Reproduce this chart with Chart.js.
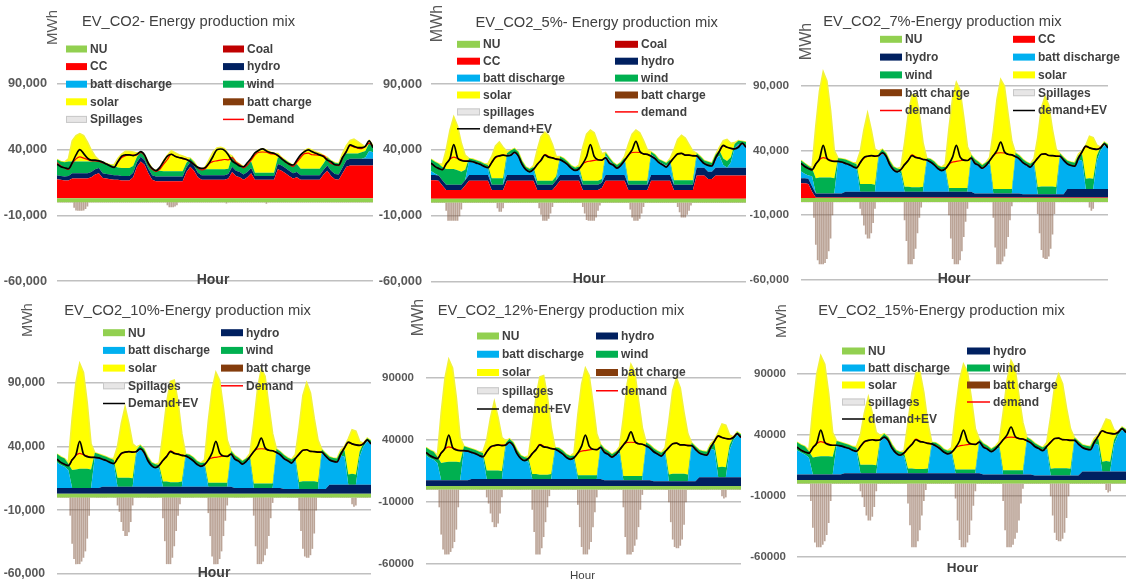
<!DOCTYPE html>
<html><head><meta charset="utf-8">
<script src="https://cdn.jsdelivr.net/npm/chart.js@4.4.1/dist/chart.umd.min.js"></script>
<style>
html,body{margin:0;padding:0;background:#fff;}
#wrap{position:relative;width:1126px;height:582px;overflow:hidden;background:#fff;}
#wrap canvas{position:absolute;}
</style></head><body><div id="wrap"></div>
<script>
// ---- categories: hour of the week (areas/lines read every 2 h, charge bars hourly)
const HOURS_2H = Array.from({length: 84}, (_, i) => 2 * i);
const HOURS_1H = Array.from({length: 168}, (_, i) => i);
// ---- y-axis ticks
const TICKS = [-60000, -10000, 40000, 90000];
const TICK_LABELS_COMMA = ['-60,000', '-10,000', '40,000', '90,000'];
const TICK_LABELS_PLAIN = ['-60000', '-10000', '40000', '90000'];

// ---- series values, thousand MWh
const DEMAND = [30,27.5,26,25,29.5,33,34.5,33.5,32.5,31.5,31.5,31,
 30,29,27.5,26.5,30.5,34,35.5,36,35.8,36,38,35.5,
 29,25,23.5,25,29,32.5,36.5,35,34,33.2,32.6,31,
 29,26,24.5,25.7,29.5,31,31.5,32,32.5,32.2,34,30.5,
 28.5,26.2,28.3,32,36,38,38.2,38,37,36.6,35.5,33.5,
 30.5,28.8,27.2,30.5,34,37,37.4,36.1,36,35.8,35.5,32.5,
 29.6,28.5,27.8,33.5,39,43,42,41.2,40.8,42.5,45,42];
const DEMAND_EV_A = [29,27,26.2,25.5,30,36,40,37,33.5,32,32,31.5,
 30.5,29,27.5,26.5,31,35,36,36,35.5,36.5,38.5,36,
 29.5,25.7,24,26.5,31,35,36.5,35,34,33.4,32.5,31,
 28.5,26.5,25.7,26.5,30,35,40,40.5,39.5,36,31.5,29.5,
 27.5,27,30,33.5,37.5,39.5,40.6,39,37.8,37.2,35.5,33,
 30.8,29,28.3,32,36,38.5,39.8,38.5,37.2,36,34.7,32,
 30.8,28.5,28.3,34,38.5,43.6,42.5,41.6,41.6,42.5,46.7,41.5];
const DEMAND_EV_B = [30,27.5,26,25,29.5,33.5,44,34,32,31.5,31.5,31,
 30,29,27.5,26.5,30.5,34.5,35.5,36,35.5,36,38.2,35.5,
 29,25,23.3,25.2,29,32.2,36,34.5,34,33,32.6,31,
 28.8,26,24.4,25.7,29.5,35,44,35,32.5,32.2,34,30,
 28.5,26.2,28.3,32,36,40,46.5,39,37,36.6,35.2,33.5,
 30.5,28.8,27,30.5,34,37,37.4,36.1,36,35.5,35.5,32.5,
 29.6,28.3,27.8,34,39,43.4,42,41.2,40.8,42,45.2,42];
const NU = [3,3,3,3,3,3,3,3,3,3,3,3, 3,3,3,3,3,3,3,3,3,3,3,3, 3,3,3,3,3,3,3,3,3,3,3,3,
 3,3,3,3,3,3,3,3,3,3,3,3, 3,3,3,3,3,3,3,3,3,3,3,3, 3,3,3,3,3,3,3,3,3,3,3,3, 3,3,3,3,3,3,3,3,3,3,3,3];

// EV_CO2
const CC_A = [14.5,14,13.5,13.5,15,15,15,15,15,16,18,19,
 15.5,15,14.5,14,14,13.5,13.5,13.5,16,24,28,25.5,
 19,14,13,13,13,13,13,13,13,13,20,24,
 21,16,14,14,14,14,14,14,14,15,20,17,
 16,14,16,19,14,14,14,14,14,14,22,21,
 19,17,15,16,14,14,14,14,14,14,18,21,
 17,14.5,14,19,24,25,25,25,25,25,25,25];
const HYDRO_A = [3,3,3,3.5,4,4,4,4,4,4,4,4,
 3.5,3.5,3.5,3.5,3.5,3.5,3.5,3.5,3.5,3.5,3.5,3.5,
 3.5,3.5,3.5,3.5,3.5,3.5,3.5,3.5,3.5,3.5,3.5,3.5,
 3.5,3.5,3.5,3.5,3.5,3.5,3.5,3.5,3.5,3.5,4,4,
 4,4,4,4,3,3,3,3,3,3,4,4,
 4,4,4,4,3.5,3.5,3.5,3.5,3.5,3.5,3.5,4,
 4,4,4,4.5,5,5,5,5,5,5,5,5];
const BATT_A = [0,0,0,0,0,0,0,0,0,0,0,0, 0,0,0,0,0,0,0,0,0,0,0,0, 0,0,0,0,0,0,0,0,0,0,0,0,
 0,0,0,0,0,0,0,0,0,0,0,0, 0,0,0,0,0,0,0,0,0,0,0,0, 0,0,0,0,0,0,0,0,0,0,0,0,
 0,0,0,0,0,0,0,0,0,1,6,5];
const WIND_A = [12,11,11,11,9,9,9,9,9,8,7,6,
 8.5,8,7.5,7,6,6,6,6,5,4,3.5,3.5,
 5,5,4.5,4.5,4,4,4,4,4,4,3.5,3,
 3,4,4.5,4.5,4.5,4.5,4.5,4.5,4.5,4,8,7,
 6,6,6,5,2.5,2.5,2.5,2.5,2.5,2.5,5,6,
 6,6,6,6,5,5,5,5,5,5,5,6,
 7.5,8.5,8.5,8.5,5,4,4,4,5,5,6,5];
const SOLAR_A = [0,0,0,2,15.7,19.7,21.2,19.7,14.7,8.7,3,0,
 0,0,0,1,6.7,10.7,12.7,12.7,10.7,3,0,0,
 0,0,0,2,8.2,12.2,15.7,14.2,12.7,11.7,4,0,
 0,0,0,2,7.7,13.2,16.2,16.7,15.7,11.2,0,0,
 0,0,0,2,14.2,17.2,18.2,17.2,15.7,14.7,3,0,
 0,0,0,2,9.2,13.7,15.2,14.2,12.7,11.7,6,0,
 0,0,0,2,6,10,11,9,6,3,2,0];
const CHARGE_A = [0,0,0,0,0,0,0,0,0,-4,-6,-6.2,-6.2,-6.2,-6,-5,-3,0,0,0,0,0,0,0,
 0,0,0,0,0,0,0,0,0,0,0,0,0,0,0,0,0,0,0,0,0,0,0,0,
 0,0,0,0,0,0,0,0,0,0,-2,-3.6,-3.6,-3.6,-3,-2,0,0,0,0,0,0,0,0,
 0,0,0,0,0,0,0,0,0,0,0,0,0,0,0,0,0,-0.8,0,0,0,0,0,0,
 0,0,0,0,0,0,0,0,0,0,0,0,0,0,-1,0,0,0,0,0,0,0,0,0,
 0,0,0,0,0,0,0,0,0,0,0,0,0,0,0,0,0,0,0,0,0,0,0,0,
 0,0,0,0,0,0,0,0,0,0,0,0,0,0,0,0,0,0,0,0,0,0,0,0];

// EV_CO2_5%
const CC_B = [14,14,13.5,10,6.5,6.5,6.5,6.5,6.5,10,13.5,13.5,
 13.5,13.5,13.5,13.5,6.5,6.5,6.5,6.5,13.5,13.5,13.5,13.5,
 13.5,13.5,13.5,13.5,6.5,6.5,6.5,6.5,6.5,10,13.5,13.5,
 13.5,13.5,13.5,13.5,6.5,6.5,6.5,6.5,6.5,8,13.5,13.5,
 13.5,13.5,13.5,13.5,6.5,6.5,6.5,6.5,6.5,6.5,13.5,13.5,
 13.5,13.5,13.5,13.5,6.5,6.5,6.5,6.5,6.5,6.5,17.5,17.5,
 17.5,15,15,17.5,17.5,17.5,17.5,17.5,17.5,17.5,17.5,17.5];
const HYDRO_B = [4,4,4,4,4,4,4,4,4,4,4.5,4.5,
 4.5,4.5,4.5,4.5,4,4,4,4,4.5,4.5,4.5,4.5,
 4.5,4.5,4.5,4.5,4,4,4,4,4,4,4.5,4.5,
 4.5,4.5,4.5,4.5,4,4,4,4,4,4,4.5,4.5,
 4.5,4.5,4.5,4.5,4,4,4,4,4,4,4.5,4.5,
 4.5,4.5,4.5,4.5,4,4,4,4,4,4,6,6,
 6,5.5,5.5,6,6,6,6,6,6,6,6,6];
const BATT_B = [3,1,0,0,0,0,0,0,0,0,10,9.5,
 8.5,7.5,6,5,0,0,0,0,14,16,17.5,15,
 8,4,2.5,4,0,0,0,0,0,0,12,10.5,
 8,5,3.5,4.5,0,0,0,0,0,0,15,11,
 7.5,5.5,7.5,11,0,0,0,0,0,0,15.5,13.5,
 10,8.5,7,9.5,0,0,0,0,0,0,8.5,6,
 3,5,4,7,9,2,0,4,15,18,17.5,17];
const WIND_B = [9,9,9,10,12,12,12,11,10,8,2.5,2.5,
 2.5,2.5,2.5,2.5,5,5,5,5,2.5,2.5,2.5,2.5,
 2.5,2,2,2,3,3,3,3,3,3,2,2,
 2,2,2,2,3,3,3,3,3,3,2,2,
 2,2,2,2,3,3,3,3,3,3,2,2,
 2,2,2,2,3.5,3.5,3.5,3.5,3.5,3.5,2.5,2.5,
 2.5,2.5,2.5,3,4,5,5,4,3,2.5,2.5,2.5];
const SOLAR_B = [0,0,0,2,14.5,29.5,39.5,33.5,21.5,11,0,0,
 0,0,0,1,16.5,24.5,27.5,23.5,1.5,0,0,0,
 0,0,0,1,23.5,33.5,37,34.5,27.5,15,0,0,
 0,0,0,1,25.5,35.5,38.5,36.5,28.5,19,0,0,
 0,0,0,1,27.5,35.5,38.5,36.5,30.5,23.5,0,0,
 0,0,0,1,23,31,34,32,27,22,0,0,
 0,0,0,0,2.5,13.5,16.5,10.5,1,0,0,0];
const CHARGE_B = [0,0,0,0,0,0,0,0,-6,-13.5,-13.5,-13.5,-13.5,-13.5,-13.5,-10,-5,0,0,0,0,0,0,0,
 0,0,0,0,0,0,0,0,0,0,0,-4,-6.6,-6.6,-4,0,0,0,0,0,0,0,0,0,
 0,0,0,0,0,0,0,0,0,-4,-9,-13.5,-13.5,-13.5,-12,-8,-3,0,0,0,0,0,0,0,
 0,0,0,0,0,0,0,0,-3,-8,-13,-13.5,-13.5,-13.5,-13.5,-11,-6,-2,0,0,0,0,0,0,
 0,0,0,0,0,0,0,0,0,-5,-11,-13.5,-13.5,-13.5,-12,-8,-3,0,0,0,0,0,0,0,
 0,0,0,0,0,0,0,0,0,0,-3,-7,-11,-11,-11,-9,-6,-2,0,0,0,0,0,0,
 0,0,0,0,0,0,0,0,0,0,0,0,0,0,0,0,0,0,0,0,0,0,0,0];

// EV_CO2_7%
const CC_C = [11.5,11.5,11,5,0.5,0.5,0.5,0.5,0.5,0.5,0.5,0.5,
 0.5,0.5,0.5,0.5,0.5,0.5,0.5,0.5,0.5,0.5,0.5,0.5, 0.5,0.5,0.5,0.5,0.5,0.5,0.5,0.5,0.5,0.5,0.5,0.5,
 0.5,0.5,0.5,0.5,0.5,0.5,0.5,0.5,0.5,0.5,0.5,0.5, 0.5,0.5,0.5,0.5,0.5,0.5,0.5,0.5,0.5,0.5,0.5,0.5,
 0.5,0.5,0.5,0.5,0.5,0.5,0.5,0.5,0.5,0.5,0.5,0.5, 0.5,0.5,0.5,0.5,0.5,0.5,0.5,0.5,0.5,0.5,0.5,0.5];
const HYDRO_C = [4,4,4,4,3,3,3,3,3,3,3,3,
 4.4,4.4,4.4,4.4,4.4,4.4,4.4,4.4,4.4,4.4,4.4,4.4,
 4.4,4.4,4.4,4.4,4.4,4.4,4.4,4.4,4.4,4.4,4.4,4.4,
 4.4,4.4,4.4,4.4,4.4,4.4,4.4,4.4,4.4,4.4,4.4,3.1,
 3.1,3.1,3.1,3.1,3.1,3.1,3.1,3.1,3.1,3.1,3.1,3.1,
 2.6,2.6,2.6,2.6,2.6,2.6,2.6,2.6,2.6,2.6,2.6,2.6,
 6.5,6.5,6.5,6.5,6.5,6.5,6.5,6.5,6.5,6.5,6.5,6.5];
const BATT_C = [5.2,3.5,2.5,8,0,0,0,0,0,0,24.5,24,
 22,21,19.5,18.5,0,0,0,0,0,26.5,30,27,
 21,17,15.5,14.5,0,0,0,0,0,0,23.5,23,
 21,18,16.5,16.5,0,0,0,0,0,0,26,24,
 22,19.5,21.5,23,0,0,0,0,0,0,29,27,
 24.5,22.5,21,22.5,0,0,0,0,0,0,29,26,
 19.5,18.5,17.5,23,22,0,0,0,22,30,34,32];
const WIND_C = [8.5,8,7.5,6,12,12.5,12.5,12.5,12.5,12,3,3,
 3,3,3,3,6,6,6,6,5.5,3,3,3,
 3,2.5,2.5,3,4,4,3.5,3.5,3.5,4,2.5,2.5,
 2.5,2.5,2.5,3,3,3,3,3,3,3,2.5,2.5,
 2.5,2.5,2.5,3,3.5,3.5,3.5,3.5,3.5,3.5,2.5,2.5,
 2.5,2.5,2.5,3,5.5,6,6,6,6,5.5,2.5,2.5,
 2.5,2.5,3,3,5,8,8.5,8,4,2.5,2.5,2.5];
const SOLAR_C = [0,0,0,1,40.5,67,82,75,52,21.5,0,0,
 0,0,0,1,25,42,55,42,27.5,2,0,0,
 0,0,0,1.5,34,56,71.5,72.5,56.5,34,0,0,
 0,0,0,2,46,70,82,76,55,32,0,0,
 0,0,0,2,45,70,85,80,58,37,0,0,
 0,0,0,2,38.4,60.9,69.9,62.9,43.9,29.4,0,0,
 0,0,0,1,3,26,32.5,32,8,0,0,0];
const CHARGE_C = [0,0,0,0,0,0,0,-12,-33,-45,-48,-48,-48,-47,-44,-38,-28,-10,0,0,0,0,0,0,
 0,0,0,0,0,0,0,0,-5,-10,-18,-25,-28,-28,-24,-16,-5,0,0,0,0,0,0,0,
 0,0,0,0,0,0,0,0,-14,-30,-48,-48,-48,-44,-36,-24,-12,-4,0,0,0,0,0,0,
 0,0,0,0,0,0,0,0,-10,-28,-44,-48,-48,-48,-45,-38,-27,-15,-5,0,0,0,0,0,
 0,0,0,0,0,0,0,0,-12,-35,-48,-48,-48,-46,-42,-36,-27,-14,-3,0,0,0,0,0,
 0,0,0,0,0,0,0,0,-9,-24,-37,-43,-44,-44,-42,-36,-25,-9,0,0,0,0,0,0,
 0,0,0,0,0,0,0,0,0,0,0,0,-4,-6.5,-5,0,0,0,0,0,0,0,0,0];

// EV_CO2_10% / 12% / 15%
const HYDRO_D = [4.5,4.5,4.5,4.5,4.5,4.5,4.5,4.5,4.5,4.5,4.5,4.5,
 5.5,5.5,5.5,5.5,5.5,5.5,5.5,5.5,5.5,5.5,5.5,5.5,
 5.5,5.5,5.5,5.5,5.5,5.5,5.5,5.5,5.5,5.5,5.5,5.5,
 5.5,5.5,5.5,5.5,5.5,5.5,5.5,5.5,5.5,5.5,5.5,4.5,
 4.5,4.5,4.5,4.5,4.5,4.5,4.5,4.5,4.5,4.5,4.5,4.5,
 3.7,3.7,3.7,3.7,3.7,3.7,3.7,3.7,3.7,3.7,3.7,3.7,
 7,7,7,7,7,7,7,7,7,7,7,7];
const BATT_D = [20,18,16.5,14,0,0,0,0,0,0,24.5,23.5,
 21.5,20.5,19,18,0,0,0,0,0,26,29.5,26.5,
 20.5,16.5,15,14,0,0,0,0,0,0,23,22.5,
 20.5,17.5,16,16,0,0,0,0,0,0,25.5,23,
 21,18.5,20.5,22,0,0,0,0,0,0,28,26,
 24,22,20.5,22,0,0,0,0,0,0,28.5,25.5,
 19.5,18.5,17.5,23,22,0,0,0,22,30,34,32];
const WIND_D = [6.5,6.5,6.5,5,14,14.5,15,15,15,14.5,3,3,
 3,3,3,3,7,7,7,7,6.5,3,3,3,
 3,2.5,2.5,3,4,4,3.5,3.5,3.5,4,2.5,2.5,
 2.5,2.5,2.5,3,3,3,3,3,3,3,2.5,2.5,
 2.5,2.5,2.5,3,3.5,3.5,3.5,3.5,3.5,3.5,2.5,2.5,
 2.5,2.5,2.5,3,5.5,6,6,6,6,5.5,2.5,2.5,
 2.5,2.5,3,3,5,8,8.5,8,4,2.5,2.5,2.5];
const SOLAR_D = [0,0,0,1,40.5,68,82.5,75.5,51.5,20,0,0,
 0,0,0,1,24.5,42.5,55.5,42.5,27,2,0,0,
 0,0,0,1.5,37.5,62.5,79,80,63,37.5,0,0,
 0,0,0,2,48.5,73.5,86.5,80.5,58.5,33.5,0,0,
 0,0,0,2,47,74,90,84,61,39,0,0,
 0,0,0,2,42.8,67.3,77.3,69.3,49.3,32.8,0,0,
 0,0,0,1,3,28,34.5,34,8,0,0,0];
const CHARGE_D = [0,0,0,0,0,0,0,-14,-36,-48,-52,-52,-52,-50,-47,-42,-32,-14,0,0,0,0,0,0,
 0,0,0,0,0,0,0,0,-6,-11,-19,-26,-30,-30,-27,-19,-6,0,0,0,0,0,0,0,
 0,0,0,0,0,0,0,0,-16,-34,-52,-52,-52,-47,-38,-26,-14,-5,0,0,0,0,0,0,
 0,0,0,0,0,0,0,0,-12,-30,-46,-52,-52,-52,-48,-42,-30,-18,-6,0,0,0,0,0,
 0,0,0,0,0,0,0,0,-14,-38,-52,-52,-52,-50,-45,-40,-30,-16,-4,0,0,0,0,0,
 0,0,0,0,0,0,0,0,-10,-26,-40,-46,-47,-47,-45,-40,-28,-10,0,0,0,0,0,0,
 0,0,0,0,0,0,0,0,0,0,0,0,-5,-7,-6,0,0,0,0,0,0,0,0,0];

// ---- styles
const STYLES = {
  nu: {color: '#92D050'}, coal: {color: '#C00000'}, cc: {color: '#FF0000'},
  hydro: {color: '#002060'}, batt: {color: '#00B0F0'}, wind: {color: '#00B050'},
  solar: {color: '#FFFF00'}, charge: {color: '#843C0C'},
  spill: {color: '#E7E6E6', border: '#C8C8C8'},
  dem: {color: '#FF0000', line: true}, demEV: {color: '#000000', line: true}
};
const LEG_P1 = [['nu','NU'],['coal','Coal'],['cc','CC'],['hydro','hydro'],['batt','batt discharge'],['wind','wind'],['solar','solar'],['charge','batt charge'],['spill','Spillages'],['dem','Demand']];
const LEG_P2 = [['nu','NU'],['coal','Coal'],['cc','CC'],['hydro','hydro'],['batt','batt discharge'],['wind','wind'],['solar','solar'],['charge','batt charge'],['spill','spillages'],['dem','demand'],['demEV','demand+EV']];
const LEG_P3 = [['nu','NU'],['cc','CC'],['hydro','hydro'],['batt','batt discharge'],['wind','wind'],['solar','solar'],['charge','batt charge'],['spill','Spillages'],['dem','demand'],['demEV','demand+EV']];
const LEG_P4 = [['nu','NU'],['hydro','hydro'],['batt','batt discharge'],['wind','wind'],['solar','solar'],['charge','batt charge'],['spill','Spillages'],['dem','Demand'],['demEV','Demand+EV']];
const LEG_P5 = [['nu','NU'],['hydro','hydro'],['batt','batt discharge'],['wind','wind'],['solar','solar'],['charge','batt charge'],['spill','spillages'],['dem','demand'],['demEV','demand+EV']];

const FONT = "'Liberation Sans', Arial, sans-serif";
Chart.defaults.font.family = FONT;

const PANELS = [
  {box:[0,0,375,291], area:{l:57,r:373,t:18.3,b:281}, tickPad:10, tickSize:12.75, tickLabels:TICK_LABELS_COMMA,
   title:'EV_CO2- Energy production mix', tx:188.5, ty:22, mwh:[52.5,27.5,15], hour:[213,280,'bold 14px'],
   leg:{x1:66,x2:223,y0:49,dy:17.6,w:21,items:LEG_P1},
   s:{cc:CC_A,hydro:HYDRO_A,batt:BATT_A,wind:WIND_A,solar:SOLAR_A,charge:CHARGE_A,dem:DEMAND,demEV:DEMAND_EV_A}},
  {box:[375,0,375,291], area:{l:56,r:371,t:18.1,b:281.7}, tickPad:9, tickSize:12.75, tickLabels:TICK_LABELS_COMMA,
   title:'EV_CO2_5%- Energy production mix', tx:221.7, ty:23.3, mwh:[62.5,23.5,16], hour:[214,279.3,'bold 14px'],
   leg:{x1:82,x2:240,y0:44.3,dy:16.9,w:23,items:LEG_P2},
   s:{cc:CC_B,hydro:HYDRO_B,batt:BATT_B,wind:WIND_B,solar:SOLAR_B,charge:CHARGE_B,dem:DEMAND,demEV:DEMAND_EV_B}},
  {box:[750,0,376,291], area:{l:51,r:358,t:21.6,b:279.3}, tickPad:12, tickSize:11.8, tickLabels:TICK_LABELS_COMMA,
   title:'EV_CO2_7%-Energy production mix', tx:192.5, ty:21.7, mwh:[56.5,41.5,16], hour:[204,279.3,'bold 14px'],
   leg:{x1:130,x2:263,y0:39.3,dy:17.8,w:22,items:LEG_P3},
   s:{cc:CC_C,hydro:HYDRO_C,batt:BATT_C,wind:WIND_C,solar:SOLAR_C,charge:CHARGE_C,dem:DEMAND,demEV:DEMAND_EV_B}},
  {box:[0,291,375,291], area:{l:57,r:371,t:27.9,b:283}, tickPad:12, tickSize:12.2, tickLabels:TICK_LABELS_COMMA,
   title:'EV_CO2_10%-Energy production mix', tx:187.5, ty:19.7, mwh:[28,29,14.5], hour:[214,282.3,'bold 14px'],
   leg:{x1:103,x2:221,y0:41.7,dy:17.7,w:22,items:LEG_P4},
   s:{cc:null,hydro:HYDRO_D,batt:BATT_D,wind:WIND_D,solar:SOLAR_D,charge:CHARGE_D,dem:DEMAND,demEV:DEMAND_EV_B}},
  {box:[375,291,375,291], area:{l:51,r:366,t:25,b:273}, tickPad:12, tickSize:11.5, tickLabels:TICK_LABELS_PLAIN,
   title:'EV_CO2_12%-Energy production mix', tx:186, ty:19.7, mwh:[44,26.5,16], hour:[207.5,284.7,'11.5px'],
   leg:{x1:102,x2:221,y0:45,dy:18.25,w:22,items:LEG_P5},
   s:{cc:null,hydro:HYDRO_D,batt:BATT_D,wind:WIND_D,solar:SOLAR_D,charge:CHARGE_D,dem:DEMAND,demEV:DEMAND_EV_B}},
  {box:[750,291,376,291], area:{l:47,r:376,t:22.1,b:265.7}, tickPad:11, tickSize:11.5, tickLabels:TICK_LABELS_PLAIN,
   title:'EV_CO2_15%-Energy production mix', tx:191.5, ty:19.7, mwh:[31.5,30,14.5], hour:[212.5,277.3,'bold 13.5px'],
   leg:{x1:92,x2:217,y0:60,dy:17,w:23,items:LEG_P5},
   s:{cc:null,hydro:HYDRO_D,batt:BATT_D,wind:WIND_D,solar:SOLAR_D,charge:CHARGE_D,dem:DEMAND,demEV:DEMAND_EV_B}}
];

const toPoints = (xs, vals) => vals.map((v, i) => ({x: xs[i], y: v * 1000}));

const decor = {
  id: 'decor',
  afterDraw(chart, args, o) {
    const ctx = chart.ctx;
    ctx.save();
    ctx.textAlign = 'center'; ctx.textBaseline = 'middle';
    ctx.fillStyle = '#404040';
    ctx.font = '14.7px ' + FONT;
    ctx.fillText(o.title, o.tx, o.ty);
    ctx.save();
    ctx.translate(o.mwh[0], o.mwh[1]); ctx.rotate(-Math.PI / 2);
    ctx.fillStyle = '#595959'; ctx.font = o.mwh[2] + 'px ' + FONT;
    ctx.fillText('MWh', 0, 0);
    ctx.restore();
    ctx.fillStyle = '#404040'; ctx.font = o.hour[2] + ' ' + FONT;
    ctx.fillText('Hour', o.hour[0], o.hour[1]);
    const L = o.leg;
    ctx.textAlign = 'left';
    ctx.font = 'bold 12px ' + FONT;
    L.items.forEach((it, i) => {
      const x = (i % 2) ? L.x2 : L.x1;
      const y = L.y0 + Math.floor(i / 2) * L.dy;
      const st = STYLES[it[0]];
      if (st.line) {
        ctx.strokeStyle = st.color; ctx.lineWidth = 1.5;
        ctx.beginPath(); ctx.moveTo(x, y); ctx.lineTo(x + L.w, y); ctx.stroke();
      } else {
        ctx.fillStyle = st.color; ctx.fillRect(x, y - 3.5, L.w, 7);
        if (st.border) { ctx.strokeStyle = st.border; ctx.lineWidth = 1; ctx.strokeRect(x + 0.5, y - 3, L.w - 1, 6); }
      }
      ctx.fillStyle = '#404040';
      ctx.fillText(it[1], x + L.w + 3, y + 0.5);
    });
    ctx.restore();
  }
};

const wrap = document.getElementById('wrap');
PANELS.forEach(p => {
  const [bx, by, bw, bh] = p.box;
  const c = document.createElement('canvas');
  c.width = bw; c.height = bh;
  c.style.left = bx + 'px'; c.style.top = by + 'px';
  c.style.width = bw + 'px'; c.style.height = bh + 'px';
  wrap.appendChild(c);
  const s = p.s;
  const area = (label, vals, color, fill, extra) => Object.assign({
    type: 'line', label, data: toPoints(HOURS_2H, vals), backgroundColor: color, borderColor: color,
    borderWidth: 0, pointRadius: 0, tension: 0, stack: 'mix', fill
  }, extra || {});
  const ds = [
    {type: 'line', label: 'demand+EV', data: toPoints(HOURS_2H, s.demEV), borderColor: STYLES.demEV.color, borderWidth: 1.7,
     pointRadius: 0, fill: false, stack: 'dEV', cubicInterpolationMode: 'monotone'},
    {type: 'line', label: 'demand', data: toPoints(HOURS_2H, s.dem), borderColor: STYLES.dem.color, borderWidth: 1.2,
     pointRadius: 0, fill: false, stack: 'd', cubicInterpolationMode: 'monotone'},
    area('NU', NU, STYLES.nu.color, 'origin')
  ];
  if (s.cc) ds.push(area('CC', s.cc, STYLES.cc.color, '-1'));
  ds.push(area('hydro', s.hydro, STYLES.hydro.color, '-1'));
  ds.push(area('batt discharge', s.batt, STYLES.batt.color, '-1'));
  ds.push(area('wind', s.wind, STYLES.wind.color, '-1'));
  ds.push(area('solar', s.solar, STYLES.solar.color, '-1', {borderWidth: 1.6, borderColor: '#F2F23A'}));
  ds.push({type: 'bar', label: 'batt charge', data: toPoints(HOURS_1H, s.charge), backgroundColor: 'rgba(125,80,55,0.52)',
    barThickness: 1, stack: 'chg'});
  const axw = p.area.l;
  new Chart(c, {
    type: 'line',
    data: {datasets: ds},
    plugins: [decor],
    options: {
      responsive: false, animation: false, devicePixelRatio: 1, events: [],
      layout: {padding: {left: 0, right: bw - p.area.r, top: p.area.t, bottom: bh - p.area.b}},
      plugins: {legend: {display: false}, tooltip: {enabled: false}, decor: p},
      scales: {
        x: {type: 'linear', min: 0, max: 166, display: false, offset: false},
        y: {
          stacked: true, min: -60000, max: 140000,
          afterBuildTicks: ax => { ax.ticks = TICKS.map(v => ({value: v})); },
          afterFit: ax => { ax.width = axw; ax.paddingTop = 0; ax.paddingBottom = 0; ax.paddingLeft = 0; ax.paddingRight = 0; },
          ticks: {callback: (v, i) => p.tickLabels[i], color: '#595959', padding: p.tickPad,
                  font: {size: p.tickSize, weight: 'bold', family: FONT}},
          grid: {color: '#C0C0C0', lineWidth: 1.6, drawTicks: false},
          border: {display: false}
        }
      }
    }
  });
});
</script></body></html>
